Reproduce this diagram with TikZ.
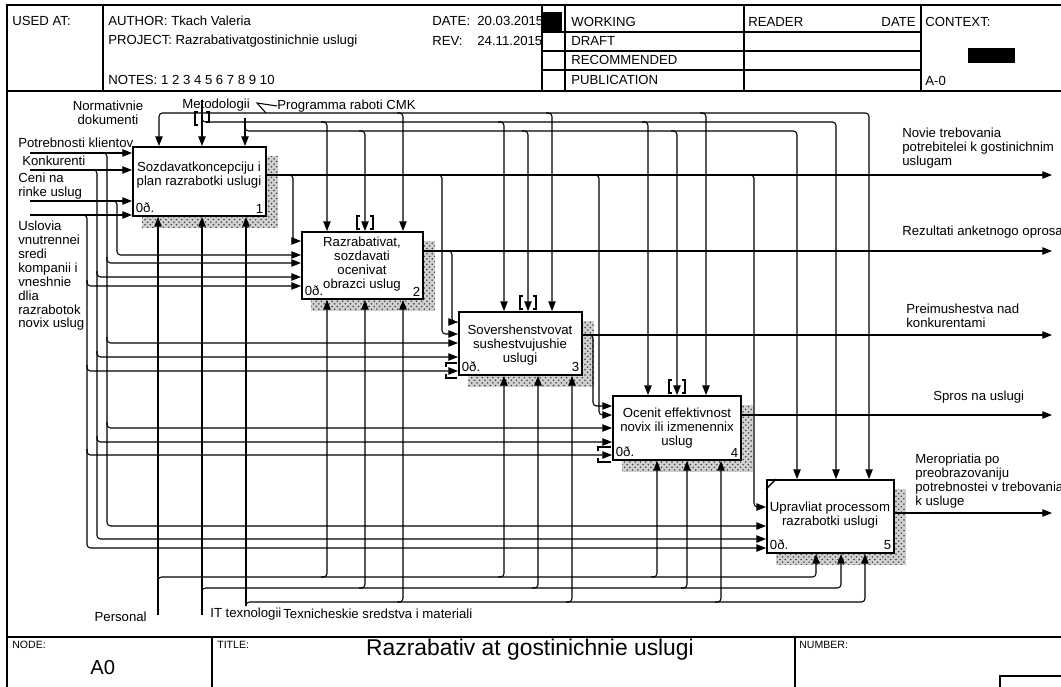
\documentclass[tikz,border=0pt]{standalone}
\usepackage{fontspec}
\setmainfont{Liberation Sans}
\usetikzlibrary{arrows.meta, positioning, patterns, backgrounds}

\newcommand{\dgf}{\fontsize{7.5}{7.9}\selectfont}

\begin{document}
\begin{tikzpicture}[
  x=0.02cm, y=-0.02cm,
  func/.style={draw, line width=1.1pt, fill=white, inner sep=0pt},
  stip/.style={pattern=crosshatch dots, pattern color=black!75},
  ftext/.style={align=center, font=\dgf, inner sep=0pt},
  lbl/.style={font=\dgf, inner sep=0pt},
  small/.style={font=\fontsize{6}{7}\selectfont, inner sep=0pt},
  arr/.style={-{Triangle[length=5.5pt, width=4.2pt]}, line width=0.6pt, rounded corners=2pt},
  arrs/.style={{Triangle[length=5.5pt, width=4.2pt]}-{Triangle[length=5.5pt, width=4.2pt]}, line width=0.6pt, rounded corners=2pt},
  ln/.style={line width=0.6pt},
  frame/.style={line width=0.7pt}
]
\useasboundingbox (0,0) rectangle (1061,686);

% Frame and header
\draw[frame] (7,690) -- (7,5) -- (1065,5);
\draw[frame] (7,91) -- (1065,91);
\draw[frame] (7,637) -- (1065,637);
\draw[frame] (103,5) -- (103,91);
\draw[frame] (542,5) -- (542,91);
\draw[frame] (565,5) -- (565,91);
\draw[frame] (744,5) -- (744,91);
\draw[frame] (921,5) -- (921,91);
\draw[frame] (542,32) -- (921,32);
\draw[frame] (542,51) -- (921,51);
\draw[frame] (542,70) -- (921,70);
\fill (543,12) rectangle (562,32);
\fill (968,48) rectangle (1015,63);

\node[lbl, anchor=west] (usedat) at (12,21) {USED AT:};
\node[lbl, anchor=west] (author) at (108,21) {AUTHOR: Tkach Valeria};
\node[lbl, anchor=west] (project) at (108,41) {PROJECT: Razrabativatgostinichnie uslugi};
\node[lbl, anchor=west] (notes) at (108,80) {NOTES: 1 2 3 4 5 6 7 8 9 10};
\node[lbl, anchor=west] (date) at (432,21) {DATE:};
\node[lbl, anchor=west] (dateval) at (477,21) {20.03.2015};
\node[lbl, anchor=west] (rev) at (432,41) {REV:};
\node[lbl, anchor=west] (revval) at (477,41) {24.11.2015};
\node[lbl, anchor=west] (working) at (571,22) {WORKING};
\node[lbl, anchor=west] (draft) at (571,41) {DRAFT};
\node[lbl, anchor=west] (recomm) at (571,60) {RECOMMENDED};
\node[lbl, anchor=west] (public) at (571,80) {PUBLICATION};
\node[lbl, anchor=west] (reader) at (748,22) {READER};
\node[lbl, anchor=east] (rdate) at (916,22) {DATE};
\node[lbl, anchor=west] (context) at (925,22) {CONTEXT:};
\node[lbl, anchor=west] (aminus) at (925,81) {A-0};

% Footer
\draw[frame] (212,637) -- (212,690);
\draw[frame] (795,637) -- (795,690);
\draw[frame] (1070,676) -- (1000,676) -- (1000,690);
\node[small, anchor=west] (nodelbl) at (12,645) {NODE:};
\node[small, anchor=west] (titlelbl) at (217,645) {TITLE:};
\node[small, anchor=west] (numlbl) at (799,645) {NUMBER:};
\node[font=\fontsize{11.5}{13}\selectfont, anchor=west, inner sep=0pt] (nodeA) at (90,668) {A0};
\node[font=\fontsize{13}{15}\selectfont, inner sep=0pt] (title) at (530,650) {Razrabativ at gostinichnie uslugi};

% Functions
\node[func, minimum width=2.66cm, minimum height=1.38cm] (b1) at (199.5,181.5) {};
\node[func, minimum width=2.42cm, minimum height=1.34cm] (b2) at (362.5,265.5) {};
\node[func, minimum width=2.46cm, minimum height=1.26cm] (b3) at (520.5,343.5) {};
\node[func, minimum width=2.56cm, minimum height=1.28cm] (b4) at (677,428) {};
\node[func, minimum width=2.54cm, minimum height=1.46cm] (b5) at (830.5,516.5) {};

% Shadows
\begin{scope}[on background layer]
\fill[black!18] ([shift={(10,10)}]b1.north west) rectangle ([shift={(11,11)}]b1.south east);
\fill[black!18] ([shift={(10,10)}]b2.north west) rectangle ([shift={(11,11)}]b2.south east);
\fill[black!18] ([shift={(10,10)}]b3.north west) rectangle ([shift={(11,11)}]b3.south east);
\fill[black!18] ([shift={(10,10)}]b4.north west) rectangle ([shift={(11,11)}]b4.south east);
\fill[black!18] ([shift={(10,10)}]b5.north west) rectangle ([shift={(11,11)}]b5.south east);
\fill[stip] ([shift={(10,10)}]b1.north west) rectangle ([shift={(11,11)}]b1.south east);
\fill[stip] ([shift={(10,10)}]b2.north west) rectangle ([shift={(11,11)}]b2.south east);
\fill[stip] ([shift={(10,10)}]b3.north west) rectangle ([shift={(11,11)}]b3.south east);
\fill[stip] ([shift={(10,10)}]b4.north west) rectangle ([shift={(11,11)}]b4.south east);
\fill[stip] ([shift={(10,10)}]b5.north west) rectangle ([shift={(11,11)}]b5.south east);
\end{scope}

\node[ftext] (t1) at (199,175) {Sozdavatkoncepciju i\\plan razrabotki uslugi};
\node[ftext] (t2) at (362,264) {Razrabativat,\\sozdavati\\ocenivat\\obrazci uslug};
\node[ftext] (t3) at (520,345) {Sovershenstvovat\\sushestvujushie\\uslugi};
\node[ftext] (t4) at (677,428) {Ocenit effektivnost\\novix ili izmenennix\\uslug};
\node[ftext] (t5) at (830,515) {Upravliat processom\\razrabotki uslugi};

\node[lbl, anchor=south west, inner sep=2pt] (c1) at (b1.south west) {0ð.};
\node[lbl, anchor=south east, inner sep=2pt] (n1) at (b1.south east) {1};
\node[lbl, anchor=south west, inner sep=2pt] (c2) at (b2.south west) {0ð.};
\node[lbl, anchor=south east, inner sep=2pt] (n2) at (b2.south east) {2};
\node[lbl, anchor=south west, inner sep=2pt] (c3) at (b3.south west) {0ð.};
\node[lbl, anchor=south east, inner sep=2pt] (n3) at (b3.south east) {3};
\node[lbl, anchor=south west, inner sep=2pt] (c4) at (b4.south west) {0ð.};
\node[lbl, anchor=south east, inner sep=2pt] (n4) at (b4.south east) {4};
\node[lbl, anchor=south west, inner sep=2pt] (c5) at (b5.south west) {0ð.};
\node[lbl, anchor=south east, inner sep=2pt] (n5) at (b5.south east) {5};
\draw[line width=0.8pt] (b5.north west) ++(0,10) -- ++(10,-10);

% Arrow labels
\node[lbl, anchor=west] (lpotr) at (18,143) {Potrebnosti klientov};
\node[lbl, anchor=west] (lkonk) at (22,161) {Konkurenti};
\node[lbl, anchor=west, align=left] (lceni) at (18,186) {Ceni na\\rinke uslug};
\node[lbl, anchor=west, align=left] (lusl) at (18,276) {Uslovia\\vnutrennei\\sredi\\kompanii i\\vneshnie\\dlia\\razrabotok\\novix uslug};
\node[lbl, align=center] (lnorm) at (108,113) {Normativnie\\dokumenti};
\node[lbl] (lmetod) at (216,105) {Metodologii};
\node[lbl, anchor=west] (lprog) at (277,106) {Programma raboti CMK};
\node[lbl, anchor=east] (lpers) at (147,617) {Personal};
\node[lbl, anchor=west] (lit) at (210,614) {IT texnologii};
\node[lbl, anchor=west] (ltex) at (283,614) {Texnicheskie sredstva i materiali};
\node[lbl, anchor=west, align=left] (lo1) at (902,148) {Novie trebovania\\potrebitelei k gostinichnim\\uslugam};
\node[lbl, anchor=west] (lo2) at (902,232) {Rezultati anketnogo oprosa};
\node[lbl, anchor=west, align=left] (lo3) at (906,316) {Preimushestva nad\\konkurentami};
\node[lbl, anchor=west] (lo4) at (933,397) {Spros na uslugi};
\node[lbl, anchor=west, align=left] (lo5) at (915,481) {Meropriatia po\\preobrazovaniju\\potrebnostei v trebovania\\k usluge};

% Free ends
\coordinate (inP) at (30,153);
\coordinate (inK) at (30,170);
\coordinate (inC) at (30,201);
\coordinate (inU) at (30,215);
\coordinate (ctM) at (202,100);
\coordinate (ctP) at (245,118);
\coordinate (meP) at (158,615);
\coordinate (meI) at (202,615);
\coordinate (meT) at (246,606);
\coordinate (out1) at (1052,175);
\coordinate (out2) at (1052,251);
\coordinate (out3) at (1052,335);
\coordinate (out4) at (1052,415);
\coordinate (out5) at (1052,513);

% --- Inputs: Potrebnosti klientov ---
\draw[arr] (inP) -- (b1.west |- inP);
\draw[arr] (100,153) -- (107,153) -- (107,526) -- (b5.west |- 0,526);
\draw[arr] (107,257) -- (107,263) -- (b2.west |- 0,263);
\draw[arr] (107,337) -- (107,343) -- (b3.west |- 0,343);
\draw[arr] (107,422) -- (107,428) -- (b4.west |- 0,428);

% --- Inputs: Konkurenti ---
\draw[arr] (inK) -- (b1.west |- inK);
\draw[arr] (90,170) -- (97,170) -- (97,539) -- (b5.west |- 0,539);
\draw[arr] (97,271) -- (97,277) -- (b2.west |- 0,277);
\draw[arr] (97,351) -- (97,357) -- (b3.west |- 0,357);
\draw[arr] (97,436) -- (97,442) -- (b4.west |- 0,442);

% --- Inputs: Ceni na rinke uslug ---
\draw[arr] (inC) -- (b1.west |- inC);
\draw[arr] (110,201) -- (117,201) -- (117,255) -- (b2.west |- 0,255);

% --- Inputs: Uslovia ---
\draw[arr] (inU) -- (b1.west |- inU);
\draw[arr] (80,215) -- (87,215) -- (87,548) -- (b5.west |- 0,548);
\draw[arr] (87,280) -- (87,286) -- (b2.west |- 0,286);
\draw[arr] (87,365) -- (87,371) -- (b3.west |- 0,371);
\draw[arr] (87,449) -- (87,455) -- (b4.west |- 0,455);

% --- Controls: Normativnie dokumenti ---
\draw[arrs] (869,0 |- b5.north) -- (869,113) -- (159,113) -- (159,0 |- b1.north);
\draw[arr] (397,113) -- (403,113) -- (403,0 |- b2.north);
\draw[arr] (546,113) -- (552,113) -- (552,0 |- b3.north);
\draw[arr] (700,113) -- (706,113) -- (706,0 |- b4.north);

% --- Controls: Metodologii ---
\draw[arr] (ctM) -- (202,0 |- b1.north);
\draw[arr] (202,116) -- (202,122) -- (836,122) -- (836,0 |- b5.north);
\draw[arr] (321,122) -- (327,122) -- (327,0 |- b2.north);
\draw[arr] (498,122) -- (504,122) -- (504,0 |- b3.north);
\draw[arr] (642,122) -- (648,122) -- (648,0 |- b4.north);

% --- Controls: Programma raboti CMK ---
\draw[arr] (ctP) -- (245,0 |- b1.north);
\draw[arr] (245,125) -- (245,131) -- (797,131) -- (797,0 |- b5.north);
\draw[arr] (359,131) -- (365,131) -- (365,0 |- b2.north);
\draw[arr] (522,131) -- (528,131) -- (528,0 |- b3.north);
\draw[arr] (671,131) -- (677,131) -- (677,0 |- b4.north);
\draw[ln] (lprog.west) -- (257,103) -- (266,113);

% --- Mechanisms: Personal ---
\draw[arr] (meP) -- (158,0 |- b1.south);
\draw[arr] (158,583) -- (158,577) -- (816,577) -- (816,0 |- b5.south);
\draw[arr] (321,577) -- (327,577) -- (327,0 |- b2.south);
\draw[arr] (498,577) -- (504,577) -- (504,0 |- b3.south);
\draw[arr] (651,577) -- (657,577) -- (657,0 |- b4.south);

% --- Mechanisms: IT texnologii ---
\draw[arr] (meI) -- (202,0 |- b1.south);
\draw[arr] (202,594) -- (202,588) -- (841,588) -- (841,0 |- b5.south);
\draw[arr] (359,588) -- (365,588) -- (365,0 |- b2.south);
\draw[arr] (532,588) -- (538,588) -- (538,0 |- b3.south);
\draw[arr] (681,588) -- (687,588) -- (687,0 |- b4.south);

% --- Mechanisms: Texnicheskie sredstva ---
\draw[arr] (meT) -- (246,0 |- b1.south);
\draw[arr] (meT) -- (246,602) -- (865,602) -- (865,0 |- b5.south);
\draw[arr] (397,602) -- (403,602) -- (403,0 |- b2.south);
\draw[arr] (566,602) -- (572,602) -- (572,0 |- b3.south);
\draw[arr] (715,602) -- (721,602) -- (721,0 |- b4.south);

% --- Outputs ---
\draw[arr] (b1.east |- 0,175) -- (out1);
\draw[arr] (287,175) -- (293,175) -- (293,241) -- (b2.west |- 0,241);
\draw[arr] (436,175) -- (442,175) -- (442,334) -- (b3.west |- 0,334);
\draw[arr] (593,175) -- (599,175) -- (599,415) -- (b4.west |- 0,415);
\draw[arr] (748,175) -- (754,175) -- (754,507) -- (b5.west |- 0,507);
\draw[arr] (b2.east |- 0,251) -- (out2);
\draw[arr] (446,251) -- (452,251) -- (452,322) -- (b3.west |- 0,322);
\draw[arr] (b3.east |- 0,335) -- (out3);
\draw[arr] (587,335) -- (593,335) -- (593,406) -- (b4.west |- 0,406);
\draw[arr] (b4.east |- 0,415) -- (out4);
\draw[arr] (b5.east |- 0,513) -- (out5);

% --- Tunnels ---
\draw[ln] (198,112) -- (195,112) -- (195,125) -- (198,125) (206,112) -- (209,112) -- (209,122) -- (206,122);
\draw[ln] (360,216) -- (357,216) -- (357,229) -- (360,229) (370,216) -- (373,216) -- (373,229) -- (370,229);
\draw[ln] (523,296) -- (520,296) -- (520,309) -- (523,309) (533,296) -- (536,296) -- (536,309) -- (533,309);
\draw[ln] (672,380) -- (669,380) -- (669,393) -- (672,393) (682,380) -- (685,380) -- (685,393) -- (682,393);
\draw[ln] (457,363) -- (446,363) -- (446,367) (457,378) -- (446,378) -- (446,374);
\draw[ln] (611,447) -- (598,447) -- (598,451) (611,462) -- (598,462) -- (598,458);

\end{tikzpicture}
\end{document}
